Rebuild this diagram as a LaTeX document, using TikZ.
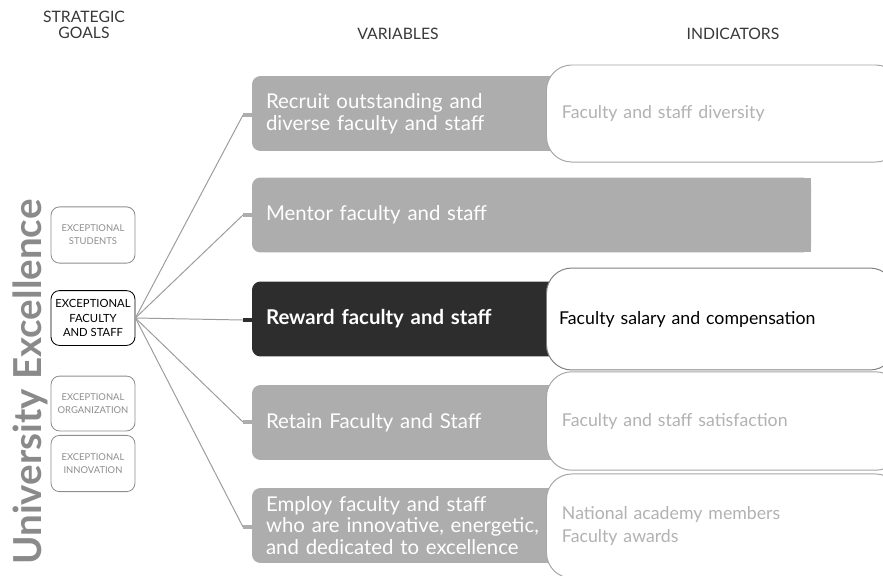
\documentclass[tikz,border=0pt]{standalone}
\usepackage{fontspec}
\setmainfont{Lato}
\usetikzlibrary{calc}

\definecolor{varfill}{HTML}{ADADAD}
\definecolor{vardark}{HTML}{2D2D2D}
\definecolor{indtext}{HTML}{B2B2B2}
\definecolor{indline}{HTML}{A6A6A6}
\definecolor{goalgray}{HTML}{8E8E8E}
\definecolor{linkgray}{HTML}{9C9C9C}
\definecolor{titlegray}{HTML}{8A8A8A}
\definecolor{headgray}{HTML}{383838}

\tikzset{
  head/.style={text=headgray, font=\fontsize{11.2}{11.6}\selectfont, align=center},
  goalbox/.style={draw=goalgray, line width=0.6pt, rounded corners=6pt, fill=white,
    minimum width=59.7pt, minimum height=40pt, inner sep=1pt, align=center,
    text=goalgray, font=\fontsize{6.7}{9.4}\selectfont},
  varbox/.style={fill=varfill, rounded corners=6pt, anchor=west, align=left,
    inner xsep=10pt, outer sep=0pt, minimum height=53.3pt, text=white,
    font=\fontsize{14.5}{15.6}\selectfont},
  indbox/.style={draw=indline, line width=0.7pt, fill=white, rounded corners=18pt,
    anchor=west, align=left, inner xsep=11pt, text width=230pt, text=indtext,
    font=\fontsize{12.6}{16.3}\selectfont},
  link/.style={draw=linkgray, line width=0.7pt},
  stubline/.style={line width=3pt}
}

\begin{document}
\begin{tikzpicture}[x=0.025cm, y=-0.025cm]
    \path[use as bounding box, clip] (0,0) rectangle (883,575);

    % column heads
    \node[head] (hgoal) at (84,25) {STRATEGIC\\GOALS};
    \node[head] (hvar) at (398,34) {VARIABLES};
    \node[head] (hind) at (733,34) {INDICATORS};

    % strategic goals
    \node[rotate=90, anchor=base, text=titlegray,
      font=\fontsize{27.4}{27.4}\selectfont\bfseries] (title) at (42,382) {University Excellence};
    \node[goalbox] (stu) at (93,235) {EXCEPTIONAL\\STUDENTS};
    \node[goalbox, draw=black, text=black, minimum height=39pt,
      font=\fontsize{8}{10}\selectfont] (fas) at (93,318) {EXCEPTIONAL\\FACULTY\\AND STAFF};
    \node[goalbox, minimum height=39pt] (org) at (93,403.5) {EXCEPTIONAL\\ORGANIZATION};
    \node[goalbox] (inn) at (93,463.5) {EXCEPTIONAL\\INNOVATION};

    % variables
    \node[varbox, text width=227pt] (v1) at (252,113.5) {Recruit outstanding and\\diverse faculty and staff};
    \node[varbox, text width=377.6pt] (v2) at (252,215) {Mentor faculty and staff};
    \fill[varfill] ($(v2.north east)+(-20,0)$) rectangle (v2.south east);
    \node[varbox, fill=vardark, text width=227pt,
      font=\fontsize{14.5}{15.6}\selectfont\bfseries] (v3) at (252,319) {Reward faculty and staff};
    \node[varbox, text width=227pt] (v4) at (252,422.5) {Retain Faculty and Staff};
    \node[varbox, text width=227pt] (v5) at (252,525.5) {Employ faculty and staff\\who are innovative, energetic,\\and dedicated to excellence};

    % indicators
    \node[indbox, minimum height=69pt] (i1) at (546,113.5) {Faculty and staff diversity};
    \node[indbox, minimum height=72.5pt, text=black, draw=gray, inner xsep=9pt] (i3) at (546,319) {Faculty salary and compensation};
    \node[indbox, minimum height=70pt] (i4) at (546,421) {Faculty and staff satisfaction};
    \node[indbox, minimum height=74pt] (i5) at (546,526) {National academy members\\Faculty awards};

    % stubs and links
    \coordinate (s1) at (243,115);
    \coordinate (s2) at (243,215);
    \coordinate (s3) at (243,320);
    \coordinate (s4) at (243,422);
    \coordinate (s5) at (243,527);
    \draw[stubline, varfill] (s1) -- (s1 -| v1.west);
    \draw[stubline, varfill] (s2) -- (s2 -| v2.west);
    \draw[stubline, vardark] (s3) -- (s3 -| v3.west);
    \draw[stubline, varfill] (s4) -- (s4 -| v4.west);
    \draw[stubline, varfill] (s5) -- (s5 -| v5.west);
    \foreach \s in {s1,s2,s3,s4,s5}
        \draw[link] (fas.east) -- (\s);
\end{tikzpicture}
\end{document}
